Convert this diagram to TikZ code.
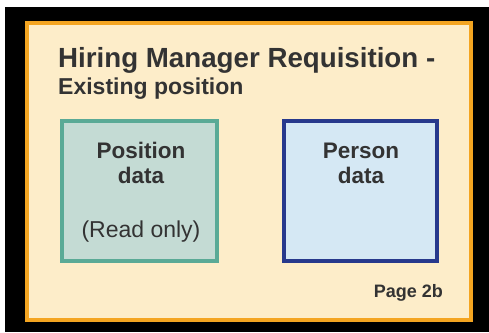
\documentclass[tikz,border=0pt]{standalone}
\usepackage{fontspec}
\setmainfont{Liberation Sans}
\definecolor{frameorange}{HTML}{F4A521}
\definecolor{cream}{HTML}{FDEDC9}
\definecolor{tealline}{HTML}{5AAA96}
\definecolor{tealfill}{HTML}{C4DBD4}
\definecolor{navyline}{HTML}{27398C}
\definecolor{bluefill}{HTML}{D5E8F4}
\definecolor{txt}{HTML}{333333}
\begin{document}
\begin{tikzpicture}[x=1pt,y=-1pt,
  panel/.style={draw=frameorange,line width=4pt,fill=cream},
  databox/.style={line width=4pt,minimum width=155pt,minimum height=140pt,inner sep=0pt},
  lbl/.style={anchor=base,inner sep=0pt,text=txt,font=\bfseries\fontsize{22.5}{24}\selectfont}
]
\useasboundingbox (0,0) rectangle (489,332);
\fill[white] (0,0) rectangle (489,332);
\fill[black] (5,7) rectangle (489,332);
\draw[panel] (27,23) rectangle (471,320);
\node[databox,draw=tealline,fill=tealfill] (pos) at (139.5,191) {};
\node[databox,draw=navyline,fill=bluefill,minimum width=153pt] (per) at (360.5,191) {};
\node[anchor=base west,inner sep=0pt,text=txt,font=\bfseries\fontsize{27.7}{29}\selectfont] (title) at (58,67) {Hiring Manager Requisition -};
\node[anchor=base west,inner sep=0pt,text=txt,font=\bfseries\fontsize{23}{24}\selectfont] (sub) at (58,94) {Existing position};
\node[lbl] (p1) at (141,158) {Position};
\node[lbl] (p2) at (141,183) {data};
\node[lbl,font=\fontsize{23}{24}\selectfont] (p3) at (141,237) {(Read only)};
\node[lbl] (q1) at (361,158) {Person};
\node[lbl] (q2) at (361,183) {data};
\node[anchor=base east,inner sep=0pt,text=txt,font=\bfseries\fontsize{18}{20}\selectfont] (page) at (443,297) {Page 2b};
\end{tikzpicture}
\end{document}
